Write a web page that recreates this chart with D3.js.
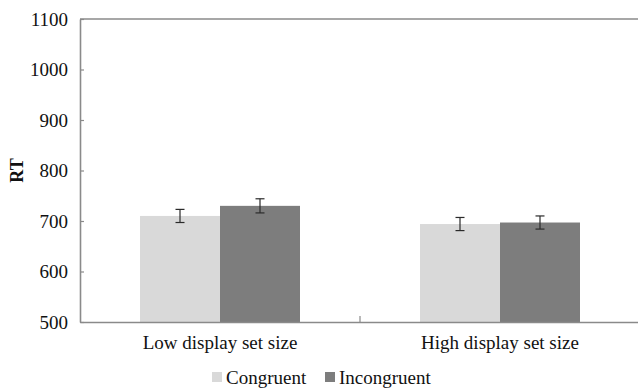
<!DOCTYPE html>
<html>
<head>
<meta charset="utf-8">
<script src="https://cdn.jsdelivr.net/npm/d3@7"></script>
<style>
  html, body { margin: 0; padding: 0; background: #fff; }
  svg { display: block; }
  svg text { font-family: "Liberation Serif", "Times New Roman", serif !important; fill: #111; }
</style>
</head>
<body>
<svg id="chart" width="638" height="388"></svg>
<script>
// Mean RT by display set size and condition, with error bar half-widths
const categories = ["Low display set size", "High display set size"];
const seriesNames = ["Congruent", "Incongruent"];
const congruent = [710, 694];
const incongruent = [730, 697];
const congruentErr = [13, 13];
const incongruentErr = [14, 13];
const yTicks = [500, 600, 700, 800, 900, 1000, 1100];

const colors = { Congruent: "#d9d9d9", Incongruent: "#7d7d7d" };
const axisColor = "#8a8a8a";
const serif = "'Liberation Serif', 'Times New Roman', serif";

const svg = d3.select("#chart");
const plotLeft = 80, plotRight = 640, plotTop = 19, plotBottom = 322;

const x = d3.scaleBand().domain(categories).range([plotLeft, plotRight]).padding(0);
const xSub = d3.scaleBand().domain(seriesNames)
  .range([x.bandwidth() * 0.2143, x.bandwidth() * 0.7857]).padding(0);
const y = d3.scaleLinear().domain([500, 1100]).range([plotBottom, plotTop]);

const rows = categories.map((c, i) => ({
  cat: c,
  vals: [
    { name: "Congruent", v: congruent[i], e: congruentErr[i] },
    { name: "Incongruent", v: incongruent[i], e: incongruentErr[i] }
  ]
}));

// Bars
const groups = svg.append("g").selectAll("g").data(rows).join("g")
  .attr("transform", d => `translate(${x(d.cat)},0)`);

groups.selectAll("rect").data(d => d.vals).join("rect")
  .attr("x", d => xSub(d.name))
  .attr("y", d => y(d.v))
  .attr("width", xSub.bandwidth())
  .attr("height", d => y(500) - y(d.v))
  .attr("fill", d => colors[d.name]);

// Error bars
const eb = groups.selectAll("g.err").data(d => d.vals).join("g").attr("class", "err")
  .attr("stroke", "#2b2b2b").attr("stroke-width", 1.2);
eb.append("line")
  .attr("x1", d => xSub(d.name) + xSub.bandwidth() / 2)
  .attr("x2", d => xSub(d.name) + xSub.bandwidth() / 2)
  .attr("y1", d => y(d.v + d.e)).attr("y2", d => y(d.v - d.e));
eb.append("line")
  .attr("x1", d => xSub(d.name) + xSub.bandwidth() / 2 - 4.5)
  .attr("x2", d => xSub(d.name) + xSub.bandwidth() / 2 + 4.5)
  .attr("y1", d => y(d.v + d.e)).attr("y2", d => y(d.v + d.e));
eb.append("line")
  .attr("x1", d => xSub(d.name) + xSub.bandwidth() / 2 - 4.5)
  .attr("x2", d => xSub(d.name) + xSub.bandwidth() / 2 + 4.5)
  .attr("y1", d => y(d.v - d.e)).attr("y2", d => y(d.v - d.e));

// Y axis with inward ticks
const yAxis = svg.append("g").attr("transform", `translate(${plotLeft},0)`)
  .call(d3.axisLeft(y).tickValues(yTicks).tickFormat(d3.format("d"))
    .tickSizeInner(-4).tickSizeOuter(0).tickPadding(12))
  .attr("font-family", serif).attr("font-size", 19);
yAxis.select(".domain").attr("stroke", axisColor).attr("stroke-width", 1.6);
yAxis.selectAll(".tick line").attr("stroke", axisColor).attr("stroke-width", 1.2);
yAxis.selectAll(".tick text").attr("fill", "#111");

// Top frame line
svg.append("line").attr("x1", plotLeft).attr("x2", plotRight).attr("y1", plotTop).attr("y2", plotTop)
  .attr("stroke", axisColor).attr("stroke-width", 1.6);

// X axis
const xAxis = svg.append("g").attr("transform", `translate(0,${plotBottom})`)
  .call(d3.axisBottom(x).tickSize(0).tickPadding(14))
  .attr("font-family", serif).attr("font-size", 19);
xAxis.select(".domain").attr("stroke", axisColor).attr("stroke-width", 1.6);
xAxis.selectAll(".tick text").attr("fill", "#111");
// Divider tick between categories
svg.append("line")
  .attr("x1", x(categories[1])).attr("x2", x(categories[1]))
  .attr("y1", plotBottom).attr("y2", plotBottom - 6)
  .attr("stroke", axisColor).attr("stroke-width", 1.2);

// Y axis title
svg.append("text")
  .attr("transform", `translate(23,${(plotTop + plotBottom) / 2}) rotate(-90)`)
  .attr("text-anchor", "middle")
  .attr("font-family", serif)
  .attr("font-weight", "bold").attr("font-size", 18)
  .text("RT");

// Legend
const legend = svg.append("g").attr("font-family", serif);
const legendItems = [
  { name: "Congruent", x: 212 },
  { name: "Incongruent", x: 325 }
];
legendItems.forEach(it => {
  legend.append("rect").attr("x", it.x).attr("y", 372).attr("width", 10).attr("height", 10)
    .attr("fill", colors[it.name]);
  legend.append("text").attr("x", it.x + 14).attr("y", 384).attr("font-size", 19).text(it.name);
});
</script>
</body>
</html>
